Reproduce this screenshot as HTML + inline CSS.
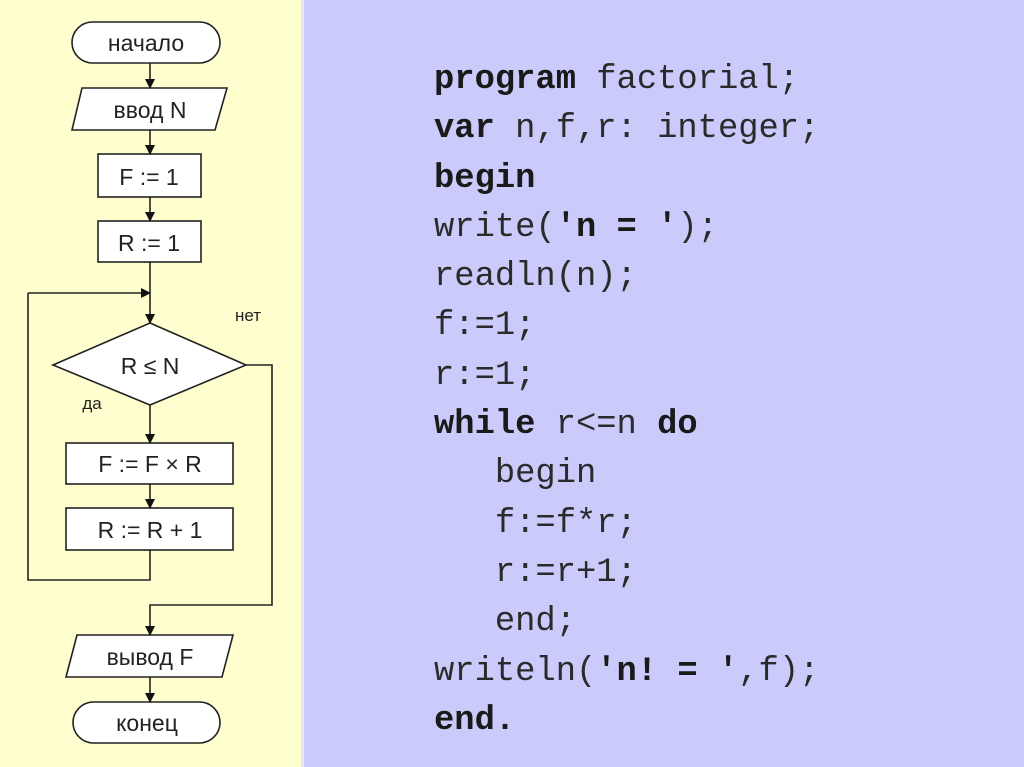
<!DOCTYPE html>
<html><head><meta charset="utf-8"><style>
html,body{margin:0;padding:0}
body{width:1024px;height:767px;position:relative;overflow:hidden;background:#cbcbfb}
#left{position:absolute;left:0;top:0;width:301px;height:767px;background:#fefece}
#div{position:absolute;left:301px;top:0;width:3px;height:767px;background:#e4e4f8}
#code{position:absolute;left:434px;top:56px;font-family:"Liberation Mono",monospace;font-size:33.8px;line-height:49.3px;color:#2a2a2a;white-space:pre;letter-spacing:0}
b{font-weight:bold;color:#1a1a1a}
svg{position:absolute;left:0;top:0}
</style></head><body>
<div id="left"></div><div id="div"></div>
<svg width="310" height="767" font-family="Liberation Sans, sans-serif" fill="none" stroke="#222" stroke-width="1.6">
<defs><marker id="a" markerWidth="10" markerHeight="10" refX="9" refY="5" orient="auto" markerUnits="userSpaceOnUse"><path d="M0,0 L10,5 L0,10 z" fill="#111" stroke="none"/></marker></defs>
<g fill="#fff">
<rect x="72" y="22" width="148" height="41" rx="20.5"/>
<polygon points="82,88 227,88 215,130 72,130"/>
<rect x="98" y="154" width="103" height="43"/>
<rect x="98" y="221" width="103" height="41"/>
<polygon points="150,323 246,365 150,405 53,365"/>
<rect x="66" y="443" width="167" height="41"/>
<rect x="66" y="508" width="167" height="42"/>
<polygon points="77,635 233,635 222,677 66,677"/>
<rect x="73" y="702" width="147" height="41" rx="20.5"/>
</g>
<path d="M150,63 V88" marker-end="url(#a)"/>
<path d="M150,130 V154" marker-end="url(#a)"/>
<path d="M150,197 V221" marker-end="url(#a)"/>
<path d="M150,262 V323" marker-end="url(#a)"/>
<path d="M28,293 H150" marker-end="url(#a)"/>
<path d="M150,550 V580 H28 V293"/>
<path d="M150,405 V443" marker-end="url(#a)"/>
<path d="M150,484 V508" marker-end="url(#a)"/>
<path d="M246,365 H272 V605 H150 V635" marker-end="url(#a)"/>
<path d="M150,677 V702" marker-end="url(#a)"/>
<g fill="#222" stroke="none" font-size="23" text-anchor="middle">
<text x="146" y="51">начало</text>
<text x="150" y="118">ввод  N</text>
<text x="149" y="185">F := 1</text>
<text x="149" y="251">R := 1</text>
<text x="150" y="374">R ≤ N</text>
<text x="150" y="472">F := F × R</text>
<text x="150" y="538">R := R + 1</text>
<text x="150" y="665">вывод  F</text>
<text x="147" y="731">конец</text>
<text x="248" y="321" font-size="17">нет</text>
<text x="92" y="409" font-size="17">да</text>
</g>
</svg>
<div id="code"><b>program</b> factorial;
<b>var</b> n,f,r: integer;
<b>begin</b>
write(<b>'n = '</b>);
readln(n);
f:=1;
r:=1;
<b>while</b> r&lt;=n <b>do</b>
   begin
   f:=f*r;
   r:=r+1;
   end;
writeln(<b>'n! = '</b>,f);
<b>end.</b></div>
</body></html>
